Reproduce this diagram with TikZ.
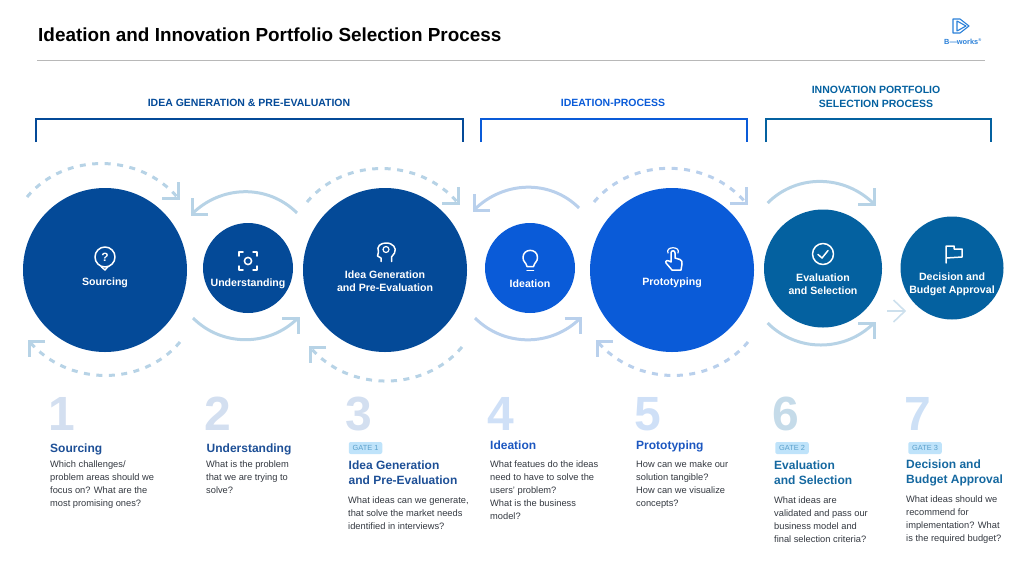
\documentclass[tikz,border=0pt]{standalone}
\usepackage{fontspec}
\setmainfont{Liberation Sans}
\definecolor{navy}{HTML}{044A98}
\definecolor{bright}{HTML}{0A5BD8}
\definecolor{teal}{HTML}{0461A0}
\definecolor{navyarc}{HTML}{B7D3E6}
\definecolor{brightarc}{HTML}{B9D0EC}
\definecolor{navynum}{HTML}{D3DFF0}
\definecolor{brightnum}{HTML}{CFE0F7}
\definecolor{tealnum}{HTML}{C5DBE9}
\definecolor{skynum}{HTML}{CDE0F6}
\definecolor{navyhead}{HTML}{1D4F96}
\definecolor{brighthead}{HTML}{1C57C0}
\definecolor{tealhead}{HTML}{1568A0}
\definecolor{bodygrey}{HTML}{333840}
\definecolor{gatefill}{HTML}{BFE3FA}
\definecolor{gatetext}{HTML}{5AA0CC}
\definecolor{logoblue}{HTML}{2A80D8}
\begin{document}
\begin{tikzpicture}[
    x=1pt, y=-1pt,
    stage/.style={circle, draw=none, inner sep=0pt, minimum size=#1},
    stagetext/.style={text=white, align=center, inner sep=0pt, font=\fontsize{10.6}{13}\selectfont\bfseries},
    icon/.style={draw=white, line width=1.5pt, line cap=round, line join=round},
    bracket/.style={line width=1.8pt},
    section/.style={align=center, inner sep=0pt, font=\fontsize{10.5}{14}\selectfont\bfseries},
    solidarc/.style={line width=3pt},
    dashedarc/.style={line width=3pt, dash pattern=on 6pt off 6.5pt},
    headmark/.style={line width=3pt, line join=miter},
    stepnum/.style={anchor=base west, inner sep=0pt, font=\fontsize{48}{48}\selectfont\bfseries},
    steptitle/.style={anchor=north west, align=left, inner sep=0pt, font=\fontsize{12}{15}\selectfont\bfseries},
    stepbody/.style={anchor=north west, align=left, inner sep=0pt, text=bodygrey, font=\fontsize{9.3}{13}\selectfont},
    gatepill/.style={rounded corners=2pt, fill=gatefill, text=gatetext, inner sep=0pt, minimum width=33.5pt, minimum height=12pt, font=\fontsize{7.4}{8}\selectfont},
]
\useasboundingbox (0,0) rectangle (1024,576);

\node[anchor=base west, inner sep=0pt, font=\fontsize{18.9}{24}\selectfont\bfseries, text=black] (title) at (38,41) {Ideation and Innovation Portfolio Selection Process};
\draw[black!28, line width=0.9pt] (37,60) -- (985,60);

% logo
\draw[logoblue, line width=1.1pt, line join=round] (953,19) -- (960,19) -- (969,26) -- (960,33) -- (953,33) -- cycle;
\draw[logoblue, line width=1.1pt, line join=round] (957,21) -- (966,26) -- (957,31) -- cycle;
\node[inner sep=0pt, text=logoblue, font=\fontsize{7.4}{8}\selectfont\bfseries] (logo) at (963,42) {B—works\textsuperscript{\fontsize{4}{4}\selectfont ®}};

% sections
\node[section, text=navy] (sec1) at (249,103) {IDEA GENERATION \& PRE-EVALUATION};
\node[section, text=bright] (sec2) at (613,103) {IDEATION-PROCESS};
\node[section, text=teal] (sec3) at (876,97) {INNOVATION PORTFOLIO\\SELECTION PROCESS};
\draw[bracket, navy] (36,142) |- (463,119) -- (463,142);
\draw[bracket, bright] (481,142) |- (747,119) -- (747,142);
\draw[bracket, teal] (766,142) |- (991,119) -- (991,142);

% circles
\node[stage=164pt, fill=navy] (sourcing) at (105,270) {};
\node[stage=90pt, fill=navy] (understanding) at (248,268) {};
\node[stage=164pt, fill=navy] (ideagen) at (385,270) {};
\node[stage=90pt, fill=bright] (ideation) at (530,268) {};
\node[stage=164pt, fill=bright] (prototyping) at (672,270) {};
\node[stage=118pt, fill=teal] (evaluation) at (823,268.5) {};
\node[stage=103pt, fill=teal] (decision) at (952,268) {};

\node[stagetext] (sourcinglabel) at (105,283) {Sourcing};
\node[stagetext] (understandinglabel) at (248,284) {Understanding};
\node[stagetext] (ideagenlabel) at (385,281.5) {Idea Generation\\and Pre-Evaluation};
\node[stagetext] (ideationlabel) at (530,284) {Ideation};
\node[stagetext] (prototypinglabel) at (672,283) {Prototyping};
\node[stagetext] (evaluationlabel) at (823,284) {Evaluation\\and Selection};
\node[stagetext] (decisionlabel) at (952,284.5) {Decision and\\Budget Approval};

% icons
\draw[icon] (105,257) circle (10);
\draw[icon] (101.5,267) -- (105,270) -- (108,266.5);
\node[text=white, inner sep=0pt, font=\fontsize{12}{12}\selectfont\bfseries] (sourcingmark) at (105,257) {?};
\draw[icon] (239,256) -- (239,252) -- (243,252) (253,252) -- (257,252) -- (257,256)
    (257,266) -- (257,270) -- (253,270) (243,270) -- (239,270) -- (239,266);
\draw[icon] (248,261) circle (3.6);
\draw[icon] (381,261.5) -- (381,258) -- (377.5,256) -- (378.5,252) .. controls (376,246) and (381,243) .. (386,243)
    .. controls (393,243) and (397,248) .. (394.5,253) -- (391.5,257) -- (391.5,261.5);
\draw[icon, line width=1.2pt] (386,249.5) circle (3);
\draw[icon] (527,266.5) .. controls (526,262) and (523,262) .. (523,257.5)
    .. controls (523,248) and (537.5,248) .. (537.5,257.5)
    .. controls (537.5,262) and (534.5,262) .. (533.5,266.5) -- cycle;
\draw[icon] (527,270.5) -- (533.5,270.5);
\draw[icon] (671,262) -- (671,253) .. controls (671,250) and (675,250) .. (675,253) -- (675,258)
    -- (680,259.5) .. controls (682,260) and (682,262) .. (682,264) -- (681,270) -- (672,270) -- (666,263)
    .. controls (665,260) and (668,260) .. (671,262);
\draw[icon, line width=1.2pt] (668,253) .. controls (665,246) and (681,246) .. (678,253);
\draw[icon] (823,254) circle (10.5);
\draw[icon] (818,254.5) -- (822,258) -- (828,250.5);
\draw[icon] (946,263) -- (946,246) -- (954,246) -- (954,249) -- (962,249) -- (962,257) -- (946,258);

% arcs
\coordinate (srcTopFrom) at (27,197);
\coordinate (srcTopTo) at (178,198);
\coordinate (srcBotFrom) at (180,342);
\coordinate (srcBotTo) at (29,341);
\coordinate (undTopFrom) at (297,213);
\coordinate (undTopTo) at (192,214);
\coordinate (undBotFrom) at (193,318);
\coordinate (undBotTo) at (298,318);
\coordinate (genTopFrom) at (307,202);
\coordinate (genTopTo) at (458,203);
\coordinate (genBotFrom) at (462,347);
\coordinate (genBotTo) at (310,347);
\coordinate (ideTopFrom) at (579,208);
\coordinate (ideTopTo) at (474,210);
\coordinate (ideBotFrom) at (475,318);
\coordinate (ideBotTo) at (580.5,318);
\coordinate (proTopFrom) at (594,202);
\coordinate (proTopTo) at (746,203);
\coordinate (proBotFrom) at (748,342);
\coordinate (proBotTo) at (597,341);
\coordinate (evaTopFrom) at (767.6,203);
\coordinate (evaTopTo) at (874,204);
\coordinate (evaBotFrom) at (767.6,323);
\coordinate (evaBotTo) at (874,323);
\coordinate (gateFrom) at (887.4,311);
\coordinate (gateTo) at (905,311);

\draw[dashedarc, navyarc] (srcTopFrom) to[out=50, in=130] (srcTopTo);
\draw[headmark, navyarc] ([xshift=-16pt]srcTopTo) -- (srcTopTo) -- ([yshift=16pt]srcTopTo);
\draw[dashedarc, navyarc] (srcBotFrom) to[out=-130, in=-50] (srcBotTo);
\draw[headmark, navyarc] ([xshift=16pt]srcBotTo) -- (srcBotTo) -- ([yshift=-16pt]srcBotTo);
\draw[solidarc, navyarc] (undTopFrom) to[out=135, in=45] (undTopTo);
\draw[headmark, navyarc] ([xshift=16pt]undTopTo) -- (undTopTo) -- ([yshift=16pt]undTopTo);
\draw[solidarc, navyarc] (undBotFrom) to[out=-45, in=-135] (undBotTo);
\draw[headmark, navyarc] ([xshift=-16pt]undBotTo) -- (undBotTo) -- ([yshift=-16pt]undBotTo);
\draw[dashedarc, navyarc] (genTopFrom) to[out=50, in=130] (genTopTo);
\draw[headmark, navyarc] ([xshift=-16pt]genTopTo) -- (genTopTo) -- ([yshift=16pt]genTopTo);
\draw[dashedarc, navyarc] (genBotFrom) to[out=-130, in=-50] (genBotTo);
\draw[headmark, navyarc] ([xshift=16pt]genBotTo) -- (genBotTo) -- ([yshift=-16pt]genBotTo);
\draw[solidarc, brightarc] (ideTopFrom) to[out=135, in=45] (ideTopTo);
\draw[headmark, brightarc] ([xshift=16pt]ideTopTo) -- (ideTopTo) -- ([yshift=16pt]ideTopTo);
\draw[solidarc, brightarc] (ideBotFrom) to[out=-45, in=-135] (ideBotTo);
\draw[headmark, brightarc] ([xshift=-16pt]ideBotTo) -- (ideBotTo) -- ([yshift=-16pt]ideBotTo);
\draw[dashedarc, brightarc] (proTopFrom) to[out=50, in=130] (proTopTo);
\draw[headmark, brightarc] ([xshift=-16pt]proTopTo) -- (proTopTo) -- ([yshift=16pt]proTopTo);
\draw[dashedarc, brightarc] (proBotFrom) to[out=-130, in=-50] (proBotTo);
\draw[headmark, brightarc] ([xshift=16pt]proBotTo) -- (proBotTo) -- ([yshift=-16pt]proBotTo);
\draw[solidarc, navyarc] (evaTopFrom) to[out=45, in=135] (evaTopTo);
\draw[headmark, navyarc] ([xshift=-16pt]evaTopTo) -- (evaTopTo) -- ([yshift=16pt]evaTopTo);
\draw[solidarc, navyarc] (evaBotFrom) to[out=-45, in=-135] (evaBotTo);
\draw[headmark, navyarc] ([xshift=-16pt]evaBotTo) -- (evaBotTo) -- ([yshift=-16pt]evaBotTo);
\draw[line width=1.6pt, navyarc!70!white] (gateFrom) -- (gateTo);
\draw[line width=1.6pt, navyarc!70!white] ([shift={(-11.5,-11)}]gateTo) -- (gateTo) -- ([shift={(-11.5,11)}]gateTo);

% steps
\node[stepnum, text=navynum] (num1) at (48,430) {1};
\node[steptitle, text=navyhead] (head1) at (50,443.2) {Sourcing};
\node[stepbody] (body1) at (50,460.5) {Which challenges/\\problem areas should we\\focus on? What are the\\most promising ones?};

\node[stepnum, text=navynum] (num2) at (204,430) {2};
\node[steptitle, text=navyhead] (head2) at (206.5,443.2) {Understanding};
\node[stepbody] (body2) at (206,460.5) {What is the problem\\that we are trying to\\solve?};

\node[stepnum, text=navynum] (num3) at (345,430) {3};
\node[gatepill] (gate1) at (365.5,448) {GATE 1};
\node[steptitle, text=navyhead] (head3) at (348.5,460.7) {Idea Generation\\and Pre-Evaluation};
\node[stepbody] (body3) at (348,496.7) {What ideas can we generate,\\that solve the market needs\\identified in interviews?};

\node[stepnum, text=brightnum] (num4) at (487,430) {4};
\node[steptitle, text=brighthead] (head4) at (490,441) {Ideation};
\node[stepbody] (body4) at (490,460.5) {What featues do the ideas\\need to have to solve the\\users' problem?\\What is the business\\model?};

\node[stepnum, text=brightnum] (num5) at (634,430) {5};
\node[steptitle, text=brighthead] (head5) at (636,441) {Prototyping};
\node[stepbody] (body5) at (636,460.5) {How can we make our\\solution tangible?\\How can we visualize\\concepts?};

\node[stepnum, text=tealnum] (num6) at (772,430) {6};
\node[gatepill] (gate2) at (792,448) {GATE 2};
\node[steptitle, text=tealhead] (head6) at (774,460.7) {Evaluation\\and Selection};
\node[stepbody] (body6) at (774,496.7) {What ideas are\\validated and pass our\\business model and\\final selection criteria?};

\node[stepnum, text=skynum] (num7) at (904,430) {7};
\node[gatepill] (gate3) at (925,448) {GATE 3};
\node[steptitle, text=tealhead] (head7) at (906,459.7) {Decision and\\Budget Approval};
\node[stepbody] (body7) at (906,495.7) {What ideas should we\\recommend for\\implementation? What\\is the required budget?};
\end{tikzpicture}
\end{document}
